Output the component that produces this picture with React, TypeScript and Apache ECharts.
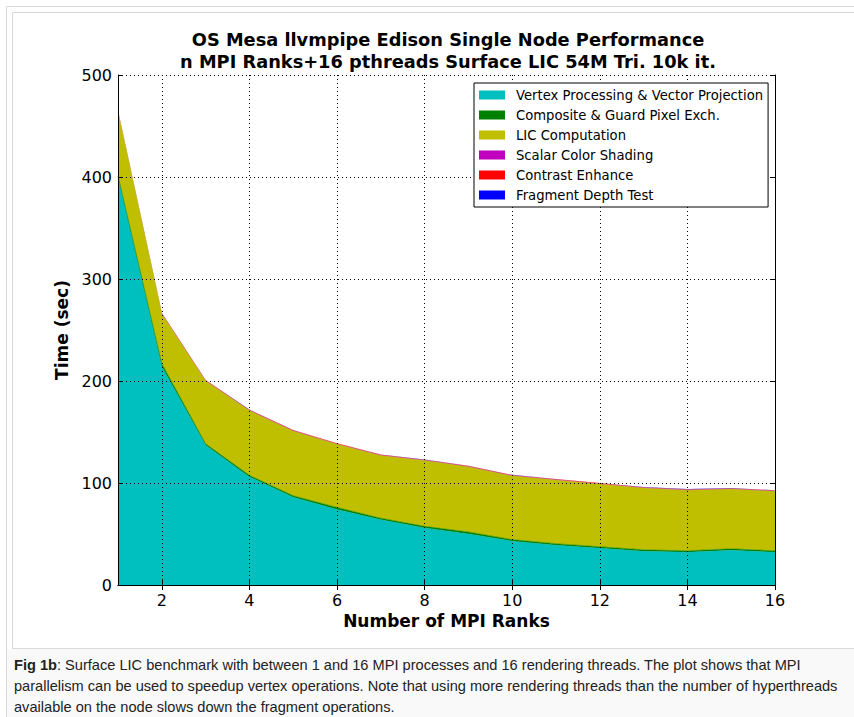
import React, { useEffect, useRef } from "react";
import * as echarts from "echarts";

const ranks = ["1", "2", "3", "4", "5", "6", "7", "8", "9", "10", "11", "12", "13", "14", "15", "16"];
const vertexProcessing = [400, 214, 137, 106, 86, 74, 64, 56, 50, 43, 39, 36, 33, 32, 34, 32];
const compositeGuard = [1, 3, 1.5, 1.5, 1.5, 2, 1.5, 1.5, 2, 1.5, 1.5, 1.5, 1.5, 1.5, 1.5, 1.5];
const licComputation = [63, 49, 61.5, 63.5, 63.5, 62, 61.5, 64.5, 64, 62.5, 62.5, 61.5, 60.5, 59.5, 58.5, 58.5];
const scalarColorShading = [0.6, 0.6, 0.6, 0.6, 0.6, 0.6, 0.6, 0.6, 0.6, 0.6, 0.6, 0.6, 0.6, 0.6, 0.6, 0.6];
const contrastEnhance = [0.3, 0.3, 0.3, 0.3, 0.3, 0.3, 0.3, 0.3, 0.3, 0.3, 0.3, 0.3, 0.3, 0.3, 0.3, 0.3];
const fragmentDepthTest = [0.1, 0.1, 0.1, 0.1, 0.1, 0.1, 0.1, 0.1, 0.1, 0.1, 0.1, 0.1, 0.1, 0.1, 0.1, 0.1];

const seriesDefs = [
  { name: "Vertex Processing & Vector Projection", data: vertexProcessing, color: "#00bfbf", edge: 0.5 },
  { name: "Composite & Guard Pixel Exch.", data: compositeGuard, color: "#008000", edge: 0.5 },
  { name: "LIC Computation", data: licComputation, color: "#bfbf00", edge: 0.5 },
  { name: "Scalar Color Shading", data: scalarColorShading, color: "#bf00bf", edge: 0 },
  { name: "Contrast Enhance", data: contrastEnhance, color: "#ff0000", edge: 0 },
  { name: "Fragment Depth Test", data: fragmentDepthTest, color: "#0000ff", edge: 0 },
];

const captionBold = "Fig 1b";
const captionLines = [
  ": Surface LIC benchmark with between 1 and 16 MPI processes and 16 rendering threads. The plot shows that MPI",
  "parallelism can be used to speedup vertex operations. Note that using more rendering threads than the number of hyperthreads",
  "available on the node slows down the fragment operations.",
];

const FONT = "DejaVu Sans";
const evenOnly = (_i: number, v: string) => Number(v) % 2 === 0;

export default function App() {
  const ref = useRef<HTMLDivElement>(null);
  useEffect(() => {
    if (!ref.current) return;
    const chart = echarts.init(ref.current, undefined, { renderer: "svg" });
    const lineCommon = { show: true, lineStyle: { color: "#000", width: 1 } };
    const tickCommon = { show: true, inside: true, length: 5, lineStyle: { color: "#000" } };
    chart.setOption({
      animation: false,
      backgroundColor: "#fff",
      title: {
        text: "OS Mesa llvmpipe Edison Single Node Performance\nn MPI Ranks+16 pthreads Surface LIC 54M Tri. 10k it.",
        left: 443,
        top: 23,
        textAlign: "center",
        textStyle: { fontFamily: FONT, fontWeight: "bold", fontSize: 17.8, lineHeight: 22, color: "#000" },
      },
      legend: {
        orient: "vertical",
        left: 474,
        top: 83,
        padding: [2, 5, 2, 5],
        itemGap: 0,
        itemWidth: 26,
        itemHeight: 9,
        icon: "rect",
        backgroundColor: "#fff",
        borderColor: "#000",
        borderWidth: 1,
        borderRadius: 0,
        textStyle: { fontFamily: FONT, fontSize: 13.2, lineHeight: 20, color: "#000", padding: [0, 0, 0, 6] },
        data: seriesDefs.map((s) => s.name),
        z: 20,
      },
      grid: { left: 118, right: 79, top: 75, bottom: 132 },
      xAxis: [
        {
          type: "category",
          data: ranks,
          boundaryGap: false,
          position: "bottom",
          z: 10,
          axisLine: lineCommon,
          axisTick: { ...tickCommon, interval: evenOnly },
          name: "Number of MPI Ranks",
          nameLocation: "middle",
          nameGap: 26,
          nameTextStyle: { fontFamily: FONT, fontWeight: "bold", fontSize: 17, color: "#000" },
          axisLabel: { interval: evenOnly, fontFamily: FONT, fontSize: 16, color: "#000", margin: 7 },
          splitLine: { show: true, interval: evenOnly, lineStyle: { color: "#000", type: [1, 3], width: 1 } },
        },
        {
          type: "category",
          data: ranks,
          boundaryGap: false,
          position: "top",
          z: 10,
          axisLine: lineCommon,
          axisTick: { ...tickCommon, interval: evenOnly },
          axisLabel: { show: false },
          splitLine: { show: false },
        },
      ],
      yAxis: [
        {
          type: "value",
          min: 0,
          max: 500,
          interval: 100,
          position: "left",
          z: 10,
          axisLine: lineCommon,
          axisTick: tickCommon,
          name: "Time (sec)",
          nameLocation: "middle",
          nameGap: 44,
          nameTextStyle: { fontFamily: FONT, fontWeight: "bold", fontSize: 17, color: "#000" },
          axisLabel: { fontFamily: FONT, fontSize: 16, color: "#000", margin: 6 },
          splitLine: { show: true, lineStyle: { color: "#000", type: [1, 3], width: 1 } },
        },
        {
          type: "value",
          min: 0,
          max: 500,
          interval: 100,
          position: "right",
          z: 10,
          axisLine: lineCommon,
          axisTick: tickCommon,
          axisLabel: { show: false },
          splitLine: { show: false },
        },
      ],
      series: seriesDefs.map((s) => ({
        name: s.name,
        type: "line",
        stack: "total",
        data: s.data,
        symbol: "none",
        itemStyle: { color: s.color },
        lineStyle: { width: s.edge, color: s.color, opacity: s.edge ? 1 : 0 },
        areaStyle: { color: s.color, opacity: 1 },
        z: 2,
      })),
      graphic: [
        {
          type: "rect",
          shape: { x: 6.5, y: 6.5, width: 900, height: 800 },
          style: { fill: "none", stroke: "#d8d8d8", lineWidth: 1 },
          silent: true,
          z: -10,
        },
        {
          type: "rect",
          shape: { x: 12.5, y: 12.5, width: 900, height: 636 },
          style: { fill: "none", stroke: "#d8d8d8", lineWidth: 1 },
          silent: true,
          z: -10,
        },
        {
          type: "rect",
          shape: { x: 7, y: 649, width: 900, height: 80 },
          style: { fill: "#f9f9f9" },
          silent: true,
          z: -11,
        },
        {
          type: "text",
          x: 14,
          y: 654,
          style: {
            text: "{b|" + captionBold + "}" + captionLines.join("\n"),
            fontFamily: "Liberation Sans",
            fontSize: 14.6,
            lineHeight: 21,
            fill: "#222",
            rich: { b: { fontWeight: "bold", fontFamily: "Liberation Sans", fontSize: 14.6, lineHeight: 21, fill: "#222" } },
          },
          z: 5,
        },
      ],
    });
    return () => chart.dispose();
  }, []);
  return (
    <div
      ref={ref}
      style={{ position: "fixed", left: 0, top: 0, width: 854, height: 717 }}
    />
  );
}
